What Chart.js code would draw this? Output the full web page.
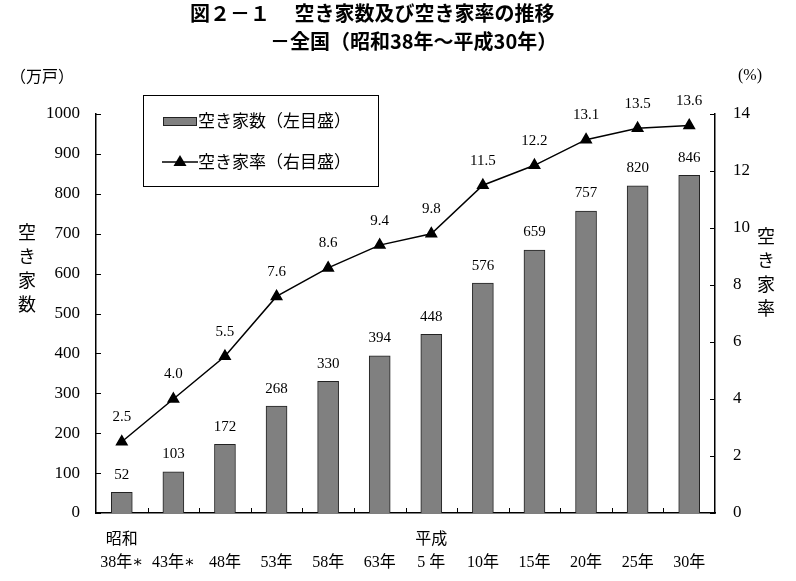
<!DOCTYPE html>
<html>
<head>
<meta charset="utf-8">
<script src="https://cdn.jsdelivr.net/npm/chart.js"></script>
<style>
  body { margin: 0; background: #fff; width: 796px; height: 581px; overflow: hidden; position: relative; }
  #wrap { position: absolute; left: 0; top: 0; width: 796px; height: 581px; }
  .titulo { position: absolute; font-family: "Noto Sans CJK JP", sans-serif; font-weight: bold; font-size: 20px; color: #000; white-space: pre; line-height: 1; }
</style>
</head>
<body>
<div id="wrap"><canvas id="grafico" width="796" height="581"></canvas></div>
<div class="titulo" style="left:190px; top:3px;">図２－１　 空き家数及び空き家率の推移</div>
<div class="titulo" style="left:270px; top:31px;">－全国（昭和38年～平成30年）</div>
<script>
const categorias = [
  ['昭和', '38年∗'], ['', '43年∗'], ['', '48年'], ['', '53年'], ['', '58年'], ['', '63年'],
  ['平成', '5 年'], ['', '10年'], ['', '15年'], ['', '20年'], ['', '25年'], ['', '30年']
];
const akiyaSu = [52, 103, 172, 268, 330, 394, 448, 576, 659, 757, 820, 846];
const akiyaRitsu = [2.5, 4.0, 5.5, 7.6, 8.6, 9.4, 9.8, 11.5, 12.2, 13.1, 13.5, 13.6];

const serif = '"Liberation Serif", "DejaVu Serif", serif';
const jp = '"Noto Sans CJK JP", sans-serif';

// ticks hacia dentro, etiquetas de datos, leyenda y textos de ejes
const extras = {
  id: 'extras',
  afterDraw(chart) {
    const ctx = chart.ctx;
    const a = chart.chartArea;
    const sy = chart.scales.y, sy1 = chart.scales.y1;
    ctx.save();
    ctx.strokeStyle = '#000';
    ctx.lineWidth = 1;
    sy.ticks.forEach((t, i) => {
      const y = Math.round(sy.getPixelForTick(i)) + 0.5;
      ctx.beginPath(); ctx.moveTo(a.left, y); ctx.lineTo(a.left + 5, y); ctx.stroke();
    });
    sy1.ticks.forEach((t, i) => {
      const y = Math.round(sy1.getPixelForTick(i)) + 0.5;
      ctx.beginPath(); ctx.moveTo(a.right, y); ctx.lineTo(a.right - 5, y); ctx.stroke();
    });
    const paso = (a.right - a.left) / categorias.length;
    for (let i = 1; i < categorias.length; i++) {
      const x = Math.round(a.left + paso * i) + 0.5;
      ctx.beginPath(); ctx.moveTo(x, a.bottom); ctx.lineTo(x, a.bottom - 5); ctx.stroke();
    }

    // etiquetas de datos
    ctx.fillStyle = '#000';
    ctx.textAlign = 'center';
    ctx.textBaseline = 'bottom';
    ctx.font = '15px ' + serif;
    chart.getDatasetMeta(0).data.forEach((b, i) => {
      ctx.fillText(String(akiyaSu[i]), b.x, b.y - 10);
    });
    chart.getDatasetMeta(1).data.forEach((p, i) => {
      ctx.fillText(akiyaRitsu[i].toFixed(1), p.x, p.y - 17);
    });

    // leyenda
    ctx.lineWidth = 1;
    ctx.strokeRect(143.5, 95.5, 235, 91);
    ctx.fillStyle = '#808080';
    ctx.fillRect(163, 117, 34, 9);
    ctx.strokeStyle = '#222';
    ctx.strokeRect(163.5, 117.5, 33, 8);
    ctx.strokeStyle = '#000';
    ctx.lineWidth = 1.5;
    ctx.beginPath(); ctx.moveTo(162, 162); ctx.lineTo(198, 162); ctx.stroke();
    ctx.fillStyle = '#000';
    ctx.beginPath(); ctx.moveTo(180, 155); ctx.lineTo(186.5, 166); ctx.lineTo(173.5, 166); ctx.closePath(); ctx.fill();
    ctx.font = '17px ' + jp;
    ctx.textAlign = 'left';
    ctx.textBaseline = 'middle';
    ctx.fillText('空き家数（左目盛）', 198, 121);
    ctx.fillText('空き家率（右目盛）', 198, 162);

    // unidades y titulos de ejes
    ctx.font = '16px ' + jp;
    ctx.textAlign = 'center';
    ctx.fillText('（万戸）', 42, 76);
    ctx.font = '16px ' + serif;
    ctx.fillText('(%)', 750, 76);
    ctx.font = '18px ' + jp;
    ['空', 'き', '家', '数'].forEach((c, i) => ctx.fillText(c, 27, 232 + i * 24));
    ['空', 'き', '家', '率'].forEach((c, i) => ctx.fillText(c, 766, 236 + i * 24));
    ctx.restore();
  }
};

new Chart(document.getElementById('grafico').getContext('2d'), {
  data: {
    labels: categorias,
    datasets: [
      {
        type: 'bar',
        label: '空き家数（左目盛）',
        data: akiyaSu,
        yAxisID: 'y',
        backgroundColor: '#808080',
        borderColor: '#222',
        borderWidth: 1,
        barThickness: 21,
        order: 2
      },
      {
        type: 'line',
        label: '空き家率（右目盛）',
        data: akiyaRitsu,
        yAxisID: 'y1',
        borderColor: '#000',
        borderWidth: 1.5,
        pointStyle: 'triangle',
        pointRadius: 6,
        pointBackgroundColor: '#000',
        pointBorderColor: '#000',
        order: 1
      }
    ]
  },
  options: {
    responsive: false,
    animation: false,
    layout: { padding: { top: 114, left: 0, right: 0, bottom: 0 } },
    plugins: { legend: { display: false }, tooltip: { enabled: false } },
    scales: {
      x: {
        offset: true,
        grid: { display: false },
        border: { display: true, color: '#000', width: 1.5 },
        ticks: { color: '#000', font: { family: serif + ', ' + jp, size: 16, lineHeight: 1.4 }, padding: 8, maxRotation: 0, autoSkip: false },
        afterFit: s => { s.height = 68; }
      },
      y: {
        position: 'left',
        min: 0, max: 1000,
        ticks: { stepSize: 100, color: '#000', font: { family: serif, size: 17 }, padding: 16, callback: v => String(v) },
        grid: { display: false, drawTicks: false },
        border: { display: true, color: '#000', width: 1.5 },
        afterFit: s => { s.width = 96; }
      },
      y1: {
        position: 'right',
        min: 0, max: 14,
        ticks: { stepSize: 2, color: '#000', font: { family: serif, size: 17 }, padding: 18, callback: v => String(v) },
        grid: { display: false, drawTicks: false },
        border: { display: true, color: '#000', width: 1.5 },
        afterFit: s => { s.width = 81; }
      }
    }
  },
  plugins: [extras]
});
</script>
</body>
</html>
